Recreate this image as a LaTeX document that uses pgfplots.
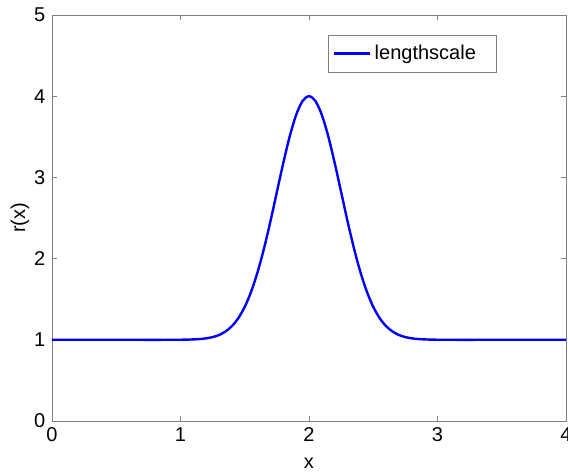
\documentclass[border=0pt]{standalone}
\usepackage{fontspec}
\setmainfont{Liberation Sans}
\usepackage{pgfplots}
\pgfplotsset{compat=1.18}
\usepackage{pgfplotstable}

% r(x) sampled along x
\pgfplotstableread{
x     r
0.00  1.000
0.50  1.000
0.90  1.000
1.00  1.001
1.05  1.002
1.10  1.005
1.15  1.009
1.20  1.018
1.25  1.033
1.30  1.059
1.35  1.102
1.40  1.168
1.45  1.267
1.50  1.406
1.55  1.594
1.60  1.834
1.65  2.126
1.70  2.460
1.75  2.820
1.80  3.178
1.85  3.506
1.90  3.769
1.95  3.941
2.00  4.000
2.05  3.941
2.10  3.769
2.15  3.506
2.20  3.178
2.25  2.820
2.30  2.460
2.35  2.126
2.40  1.834
2.45  1.594
2.50  1.406
2.55  1.267
2.60  1.168
2.65  1.102
2.70  1.059
2.75  1.033
2.80  1.018
2.85  1.009
2.90  1.005
2.95  1.002
3.00  1.001
3.10  1.000
3.50  1.000
4.00  1.000
}\lengthscale

\begin{document}
\fontsize{20}{24}\selectfont
\begin{tikzpicture}
\begin{axis}[
  scale only axis,
  width=514pt, height=406pt,
  xmin=0, xmax=4, ymin=0, ymax=5,
  xtick={0,1,2,3,4}, ytick={0,1,2,3,4,5},
  tick align=inside,
  major tick length=5pt,
  axis line style={draw=gray},
  every tick/.style={draw=gray},
  /pgf/number format/assume math mode=true,
  tick label style={font=\fontsize{20}{24}\selectfont},
  xlabel={x}, ylabel={r(x)},
  xlabel style={at={(axis description cs:0.5,-0.1034)}, anchor=center},
  ylabel style={at={(axis description cs:-0.0623,0.5)}, anchor=center},
  label style={font=\fontsize{20}{24}\selectfont},
  legend style={
    at={(rel axis cs:0.864,0.9515)}, anchor=north east,
    draw=gray, fill=white,
    inner xsep=5pt, inner ysep=10pt,
    font=\fontsize{20}{24}\selectfont,
    nodes={inner sep=0pt},
    /tikz/column sep=3.5pt,
  },
  legend cell align=left,
  legend image code/.code={\draw[#1] (0pt,0pt) -- (36pt,0pt);},
]
\addplot[blue, line width=2.4pt, smooth] table[x=x, y=r] {\lengthscale};
\addlegendentry{lengthscale\hspace*{15pt}}
\end{axis}
\pgfresetboundingbox
\path[use as bounding box] (-52pt,-52pt) rectangle (516pt,421pt);
\end{tikzpicture}
\end{document}
